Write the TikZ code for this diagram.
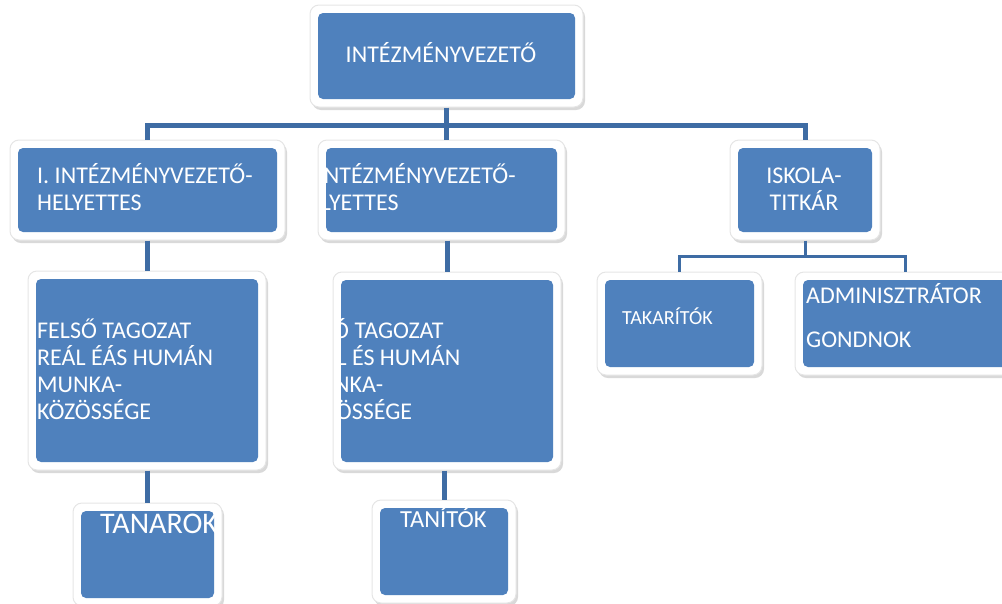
\documentclass[tikz,border=0pt]{standalone}
\usepackage{fontspec}
\setmainfont{Carlito}
\usetikzlibrary{shadows}
\definecolor{boxblue}{RGB}{79,129,189}
\definecolor{linkblue}{RGB}{62,108,164}
\tikzstyle{unitbox}=[fill=white, draw=black!10, line width=1pt, rounded corners=9pt, inner sep=0pt,
  drop shadow={shadow xshift=2pt,shadow yshift=-3pt,opacity=.3},
  path picture={\fill[boxblue,rounded corners=5pt]
    ([shift={(8pt,8pt)}]path picture bounding box.south west) rectangle
    ([shift={(-8pt,-8pt)}]path picture bounding box.north east);}]
\tikzstyle{boxtext}=[text=white, inner sep=0pt, align=left, font=\fontsize{24}{27}\selectfont]
\tikzstyle{link}=[draw=linkblue, line width=5pt]
\tikzstyle{thinlink}=[draw=linkblue, line width=3pt]

\begin{document}
\begin{tikzpicture}[x=1pt,y=-1pt]
\useasboundingbox (0,0) rectangle (1002,603);
% boxes
\node[unitbox, minimum width=273pt, minimum height=102pt] (top) at (446.5,56) {};
\node[unitbox, minimum width=275pt, minimum height=100pt] (helyL) at (147.5,190) {};
\node[unitbox, minimum width=247pt, minimum height=100pt] (helyM) at (441.5,190) {};
\node[unitbox, minimum width=150pt, minimum height=100pt] (titkar) at (805,190) {};
\node[unitbox, minimum width=238pt, minimum height=199pt] (mkL) at (147,370.5) {};
\node[unitbox, minimum width=228pt, minimum height=198pt] (mkM) at (447,371) {};
\node[unitbox, minimum width=149pt, minimum height=103pt] (tanarok) at (147.5,554.5) {};
\node[unitbox, minimum width=144pt, minimum height=103pt] (tanitok) at (444,551.5) {};
\node[unitbox, minimum width=165pt, minimum height=103pt] (takaritok) at (679.5,323.5) {};
\node[unitbox, minimum width=220pt, minimum height=103pt] (admin) at (905,323.5) {};

% connectors
\coordinate (bar) at (0,125);
\coordinate (fork) at (0,256);
\draw[link] (top.south) -- (top.south |- helyM.north);
\draw[link] (helyL.north) -- (helyL.north |- bar) -- (titkar.north |- bar) -- (titkar.north);
\foreach \a/\b in {helyL/mkL, helyM/mkM, mkL/tanarok, mkM/tanitok} {
  \draw[link] (\b.north |- \a.south) -- (\b.north);
}
\draw[thinlink] (titkar.south) -- (titkar.south |- fork);
\draw[thinlink] (takaritok.north) -- (takaritok.north |- fork) -- (admin.north |- fork) -- (admin.north);

% texts (base = last line)
\node[boxtext, anchor=base] (topT) at (441,62) {INTÉZMÉNYVEZETŐ};
\node[boxtext, anchor=base west] (helyLT) at (37,210) {I. INTÉZMÉNYVEZETŐ-\\HELYETTES};
\begin{scope}
\clip ([shift={(8pt,-8pt)}]helyM.north west) rectangle ([shift={(-8pt,8pt)}]helyM.south east);
\node[boxtext, anchor=base west] (helyMT) at (294,210) {II. INTÉZMÉNYVEZETŐ-\\HELYETTES};
\end{scope}
\node[boxtext, align=center, anchor=base] (titkarT) at (804,210) {ISKOLA-\\TITKÁR};
\node[boxtext, anchor=base west] (mkLT) at (37,419) {FELSŐ TAGOZAT\\REÁL ÉÁS HUMÁN\\MUNKA-\\KÖZÖSSÉGE};
\begin{scope}
\clip ([shift={(8pt,-8pt)}]mkM.north west) rectangle ([shift={(-8pt,8pt)}]mkM.south east);
\node[boxtext, anchor=base west] (mkMT) at (298,419) {ALSÓ TAGOZAT\\REÁL ÉS HUMÁN\\MUNKA-\\KÖZÖSSÉGE};
\end{scope}
\begin{scope}
\clip ([shift={(8pt,-8pt)}]tanarok.north west) rectangle ([shift={(-8pt,8pt)}]tanarok.south east);
\node[boxtext, font=\fontsize{30}{32}\selectfont, anchor=base west] (tanarokT) at (100,533) {TANAROK};
\end{scope}
\node[boxtext, font=\fontsize{24.5}{28}\selectfont, anchor=base west] (tanitokT) at (400,527) {TANÍTÓK};
\node[boxtext, font=\fontsize{20}{23}\selectfont, anchor=base west] (takaritokT) at (622,324) {TAKARÍTÓK};
\node[boxtext, font=\fontsize{24}{44}\selectfont, anchor=base west] (adminT) at (806,347) {ADMINISZTRÁTOR\\GONDNOK};
\end{tikzpicture}
\end{document}
